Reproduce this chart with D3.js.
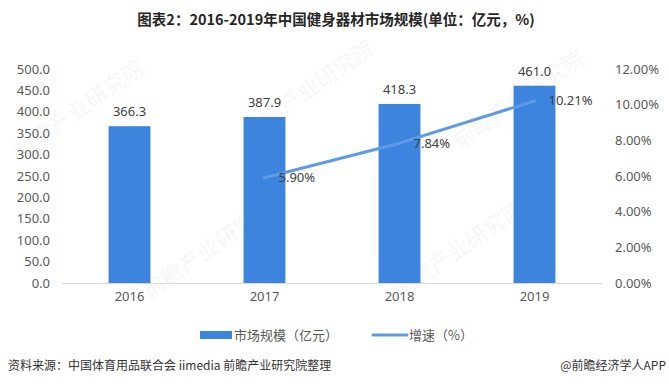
<!DOCTYPE html>
<html>
<head>
<meta charset="utf-8">
<script src="https://cdn.jsdelivr.net/npm/d3@7"></script>
<style>
  body { margin: 0; background: #fff; }
  svg { display: block; font-family: "Microsoft YaHei", "Noto Sans CJK SC", sans-serif; }
</style>
</head>
<body>
<svg id="chart" width="669" height="386"></svg>
<script>
'use strict';

var years = ['2016', '2017', '2018', '2019'];
var marketSize = [366.3, 387.9, 418.3, 461.0];
var growthYears = ['2017', '2018', '2019'];
var growthRate = [5.90, 7.84, 10.21];
var leftTicks = [0, 50, 100, 150, 200, 250, 300, 350, 400, 450, 500];
var rightTicks = [0, 2, 4, 6, 8, 10, 12];

var barColor = '#3d84de';
var lineColor = '#5d9be8';
var textColor = '#595959';

var svg = d3.select('#chart');

var plot = {left: 62, right: 602, top: 69, bottom: 283};

var x = d3.scaleBand()
  .domain(years)
  .range([plot.left, plot.right])
  .paddingInner(0.69)
  .paddingOuter(0.345);

var yLeft = d3.scaleLinear().domain([0, 500]).range([plot.bottom, plot.top]);
var yRight = d3.scaleLinear().domain([0, 12]).range([plot.bottom, plot.top]);

function translate(px, py) {
  return 'translate(' + px + ', ' + py + ')';
}

// faint watermark text, kept well inside the picture
var marks = [[20, 160], [250, 140], [460, 150], [150, 300], [400, 300]];
svg.append('g')
  .selectAll('text')
  .data(marks)
  .enter()
  .append('text')
  .attr('transform', function (d) { return translate(d[0], d[1]) + ' rotate(-35)'; })
  .attr('font-size', 22)
  .attr('font-weight', 'bold')
  .attr('fill', '#000')
  .attr('fill-opacity', 0.035)
  .text('前瞻产业研究院');

// title
svg.append('text')
  .attr('x', 336)
  .attr('y', 25)
  .attr('text-anchor', 'middle')
  .attr('font-size', 14.5)
  .attr('font-weight', 'bold')
  .attr('fill', '#262626')
  .text('图表2：2016-2019年中国健身器材市场规模(单位：亿元，%)');

// left axis
var leftAxis = svg.append('g')
  .attr('transform', translate(50, 0))
  .call(d3.axisLeft(yLeft).tickValues(leftTicks).tickSize(0).tickPadding(0)
    .tickFormat(d3.format('.1f')));
leftAxis.select('.domain').remove();
leftAxis.selectAll('text')
  .attr('font-size', 13)
  .attr('fill', textColor)
  .attr('font-family', '"Noto Sans", "DejaVu Sans", sans-serif');

// right axis
var rightAxis = svg.append('g')
  .attr('transform', translate(615, 0))
  .call(d3.axisRight(yRight).tickValues(rightTicks).tickSize(0).tickPadding(0)
    .tickFormat(function (d) { return d.toFixed(2) + '%'; }));
rightAxis.select('.domain').remove();
rightAxis.selectAll('text')
  .attr('font-size', 13)
  .attr('fill', textColor)
  .attr('font-family', '"Noto Sans", "DejaVu Sans", sans-serif');

// bars
svg.append('g')
  .selectAll('rect')
  .data(marketSize)
  .enter()
  .append('rect')
  .attr('x', function (d, i) { return x(years[i]); })
  .attr('width', x.bandwidth())
  .attr('y', function (d) { return yLeft(d); })
  .attr('height', function (d) { return yLeft(0) - yLeft(d); })
  .attr('fill', barColor);

// baseline
svg.append('line')
  .attr('x1', plot.left)
  .attr('x2', plot.right)
  .attr('y1', yLeft(0) + 0.5)
  .attr('y2', yLeft(0) + 0.5)
  .attr('stroke', '#d9d9d9')
  .attr('stroke-width', 1);

// x axis labels
var bottomAxis = svg.append('g')
  .attr('transform', translate(0, 292))
  .call(d3.axisBottom(x).tickSize(0).tickPadding(0));
bottomAxis.select('.domain').remove();
bottomAxis.selectAll('text')
  .attr('font-size', 13)
  .attr('fill', textColor)
  .attr('font-family', '"Noto Sans", "DejaVu Sans", sans-serif');

// bar value labels
svg.append('g')
  .selectAll('text')
  .data(marketSize)
  .enter()
  .append('text')
  .attr('x', function (d, i) { return x(years[i]) + x.bandwidth() / 2; })
  .attr('y', function (d) { return yLeft(d) - 10; })
  .attr('text-anchor', 'middle')
  .attr('font-size', 13)
  .attr('font-family', '"Noto Sans", "DejaVu Sans", sans-serif')
  .attr('fill', '#404040')
  .text(function (d) { return d.toFixed(1); });

// growth line
var cx = function (i) { return x(growthYears[i]) + x.bandwidth() / 2; };
var line = d3.line()
  .x(function (d, i) { return cx(i); })
  .y(function (d) { return yRight(d); });

svg.append('path')
  .datum(growthRate)
  .attr('d', line)
  .attr('fill', 'none')
  .attr('stroke', lineColor)
  .attr('stroke-width', 3)
  .attr('stroke-linecap', 'round')
  .attr('stroke-linejoin', 'round');

svg.append('g')
  .selectAll('text')
  .data(growthRate)
  .enter()
  .append('text')
  .attr('x', function (d, i) { return cx(i) + 14; })
  .attr('y', function (d) { return yRight(d); })
  .attr('dy', '0.35em')
  .attr('font-size', 13)
  .attr('font-family', '"Noto Sans", "DejaVu Sans", sans-serif')
  .attr('fill', '#404040')
  .text(function (d) { return d.toFixed(2) + '%'; });

// legend
var legend = svg.append('g');
legend.append('rect')
  .attr('x', 200).attr('y', 331)
  .attr('width', 32).attr('height', 8)
  .attr('fill', barColor);
legend.append('text')
  .attr('x', 234).attr('y', 335).attr('dy', '0.35em')
  .attr('font-size', 13).attr('fill', textColor)
  .text('市场规模（亿元）');
legend.append('line')
  .attr('x1', 373).attr('x2', 407)
  .attr('y1', 335).attr('y2', 335)
  .attr('stroke', lineColor).attr('stroke-width', 3)
  .attr('stroke-linecap', 'round');
legend.append('text')
  .attr('x', 409).attr('y', 335).attr('dy', '0.35em')
  .attr('font-size', 13).attr('fill', textColor)
  .text('增速（%）');

// footer
svg.append('text')
  .attr('x', 8).attr('y', 370)
  .attr('font-size', 12).attr('fill', '#333')
  .text('资料来源：中国体育用品联合会 iimedia 前瞻产业研究院整理');
svg.append('text')
  .attr('x', 666).attr('y', 370)
  .attr('text-anchor', 'end')
  .attr('font-size', 12).attr('fill', '#333')
  .text('@前瞻经济学人APP');
</script>
</body>
</html>
